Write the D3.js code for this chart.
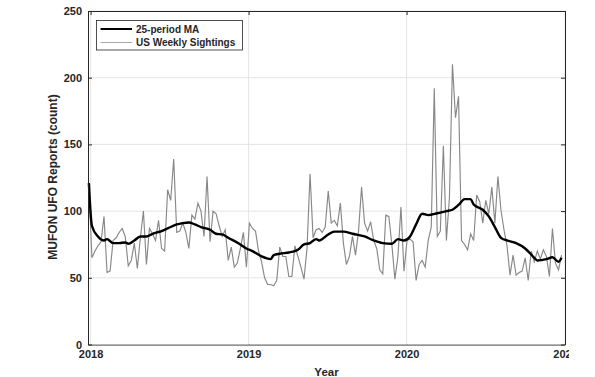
<!DOCTYPE html>
<html>
<head>
<meta charset="utf-8">
<script src="https://cdn.jsdelivr.net/npm/d3@7"></script>
<style>
  body { margin: 0; background: #fff; }
  svg { display: block; font-family: "Liberation Sans", Arial, sans-serif; }
</style>
</head>
<body>
<div id="chart"></div>
<script>
const WIDTH = 595, HEIGHT = 377;
const MARGIN = { left: 88, top: 11, right: 30, bottom: 32.5 };
const INNER_WIDTH = WIDTH - MARGIN.left - MARGIN.right;
const INNER_HEIGHT = HEIGHT - MARGIN.top - MARGIN.bottom;

// weekly US sightings, first week starting 2017-12-28
const firstWeek = new Date(2017, 11, 28);
const sightings = [
  121, 65, 70, 74, 77, 96, 54, 55, 78, 80,
  84, 87, 81, 59, 63, 76, 57, 80, 100, 60,
  87, 83, 78, 93, 72, 70, 116, 108, 139, 84,
  85, 91, 84, 72, 97, 94, 106, 100, 81, 126,
  77, 100, 98, 89, 81, 86, 63, 73, 58, 61,
  72, 84, 58, 91, 87, 85, 70, 62, 50, 45,
  45, 44, 48, 73, 66, 66, 51, 51, 74, 66,
  58, 49, 72, 128, 80, 86, 87, 84, 88, 115,
  91, 93, 89, 106, 76, 60, 66, 81, 67, 85,
  118, 91, 85, 92, 78, 72, 56, 53, 97, 96,
  75, 49, 66, 103, 55, 78, 79, 77, 48, 60,
  63, 58, 78, 88, 192, 81, 85, 149, 78, 110,
  210, 170, 186, 78, 75, 71, 83, 78, 112, 107,
  91, 108, 98, 118, 91, 126, 101, 86, 74, 52,
  67, 52, 54, 55, 65, 48, 70, 62, 70, 64,
  71, 66, 51, 87, 61, 56, 67
];

// 25-period moving average, read at these week numbers
const maWeek = [0, 1, 3, 5, 6, 8, 10, 12, 13, 15, 17, 19, 21, 24, 26, 29, 31, 33, 35, 37,
  40, 42, 44, 46, 50, 52, 54, 57, 60, 61, 63, 66, 68, 69, 71, 73, 75, 76, 79, 81,
  84, 87, 91, 94, 97, 100, 102, 104, 106, 108, 110, 112, 115, 118, 120, 122, 124, 126, 127, 130,
  132, 134, 136, 138, 141, 144, 147, 148, 151, 153, 155, 156];
const maValue = [121, 89, 81, 78, 79, 76, 76, 76.5, 75.5, 78, 81, 81, 83, 85, 87, 90, 91, 91.5, 90, 88,
  86, 83, 82.5, 80, 75, 72, 70, 66, 64, 67, 68, 69, 70, 71, 75, 76, 79, 78, 82.5, 84.6,
  84.6, 83, 81, 78, 76, 75.5, 79, 78, 81, 90, 98, 97, 98.4, 100, 101, 104.6, 109, 109, 105, 101,
  96, 88, 80, 78, 76, 72, 65, 63, 64, 65.4, 62, 65];

const yTicks = [0, 50, 100, 150, 200, 250];
const xTicks = [new Date(2018, 0, 1), new Date(2019, 0, 1), new Date(2020, 0, 1), new Date(2021, 0, 1)];
const xTickLabels = ["2018", "2019", "2020", "2021"];

const weekDate = i => d3.timeDay.offset(firstWeek, i * 7);
const grayData = sightings.map((v, i) => ({ date: weekDate(i), value: v }));
const maData = maWeek.map((w, i) => ({ date: weekDate(w), value: maValue[i] }));

const svg = d3.select("#chart")
  .append("svg")
  .attr("width", WIDTH)
  .attr("height", HEIGHT)
  .append("g")
  .attr("transform", `translate(${MARGIN.left}, ${MARGIN.top})`);

const x = d3.scaleTime()
  .domain([new Date(2017, 11, 26), new Date(2021, 0, 1)])
  .range([0, INNER_WIDTH]);

const y = d3.scaleLinear()
  .domain([0, 250])
  .range([INNER_HEIGHT, 0]);

const axisColor = "#262626";

// grid
svg.append("g")
  .selectAll("line.gy")
  .data(yTicks)
  .join("line")
  .attr("x1", 0).attr("x2", INNER_WIDTH)
  .attr("y1", d => y(d)).attr("y2", d => y(d))
  .attr("stroke", "#dedede").attr("stroke-width", 0.8);

svg.append("g")
  .selectAll("line.gx")
  .data(xTicks)
  .join("line")
  .attr("x1", d => x(d)).attr("x2", d => x(d))
  .attr("y1", 0).attr("y2", INNER_HEIGHT)
  .attr("stroke", "#dedede").attr("stroke-width", 0.8);

// series
const line = d3.line()
  .x(d => x(d.date))
  .y(d => y(d.value));

svg.append("path")
  .datum(grayData)
  .attr("fill", "none")
  .attr("stroke", "#888")
  .attr("stroke-width", 1.15)
  .attr("d", line);

svg.append("path")
  .datum(maData)
  .attr("fill", "none")
  .attr("stroke", "#000")
  .attr("stroke-width", 2.4)
  .attr("stroke-linejoin", "round")
  .attr("d", line.curve(d3.curveMonotoneX));

// axes (MATLAB box, ticks inside)
svg.append("defs").append("clipPath")
  .attr("id", "xclip")
  .append("rect")
  .attr("x", -40).attr("y", 0)
  .attr("width", 569 - MARGIN.left + 40).attr("height", 60);

svg.append("g")
  .attr("transform", `translate(0, ${INNER_HEIGHT})`)
  .attr("clip-path", "url(#xclip)")
  .call(d3.axisBottom(x).tickValues(xTicks).tickFormat((d, i) => xTickLabels[i]).tickSize(-4).tickSizeOuter(0).tickPadding(6));

svg.append("g")
  .call(d3.axisTop(x).tickValues(xTicks).tickFormat("").tickSize(-4).tickSizeOuter(0));

svg.append("g")
  .call(d3.axisLeft(y).tickValues(yTicks).tickSize(-4).tickSizeOuter(0).tickPadding(6));

svg.append("g")
  .attr("transform", `translate(${INNER_WIDTH}, 0)`)
  .call(d3.axisRight(y).tickValues(yTicks).tickFormat("").tickSize(-4).tickSizeOuter(0));

svg.selectAll(".domain, .tick line").attr("stroke", axisColor).attr("stroke-width", 1);
svg.selectAll(".tick text")
  .attr("fill", axisColor)
  .style("font-size", "11px")
  .style("font-weight", "bold")
  .style("font-family", "'Liberation Sans', Arial, sans-serif");

// legend
const legend = svg.append("g")
  .attr("transform", `translate(${96.5 - MARGIN.left}, ${20.5 - MARGIN.top})`);

legend.append("rect")
  .attr("width", 146).attr("height", 29.5)
  .attr("fill", "#fff")
  .attr("stroke", axisColor).attr("stroke-width", 0.8);

const legendItems = [
  { label: "25-period MA", color: "#000", width: 2 },
  { label: "US Weekly Sightings", color: "#a8a8a8", width: 1 }
];

legendItems.forEach((d, i) => {
  const ly = 8.5 + i * 13.5;
  legend.append("line")
    .attr("x1", 4).attr("x2", 35.5)
    .attr("y1", ly).attr("y2", ly)
    .attr("stroke", d.color).attr("stroke-width", d.width);
  legend.append("text")
    .attr("x", 39.5).attr("y", ly)
    .attr("dy", "0.35em")
    .attr("fill", axisColor)
    .style("font-size", "10px")
    .style("font-weight", "bold")
    .text(d.label);
});

// labels
svg.append("text")
  .attr("x", INNER_WIDTH / 2)
  .attr("y", HEIGHT - MARGIN.top - 1.5)
  .attr("text-anchor", "middle")
  .attr("fill", axisColor)
  .style("font-size", "11.5px")
  .style("font-weight", "bold")
  .text("Year");

svg.append("text")
  .attr("transform", "rotate(-90)")
  .attr("x", -(177 - MARGIN.top))
  .attr("y", 53 - MARGIN.left)
  .attr("dy", "0.35em")
  .attr("text-anchor", "middle")
  .attr("fill", axisColor)
  .style("font-size", "12px")
  .style("font-weight", "bold")
  .text("MUFON UFO Reports (count)");
</script>
</body>
</html>
